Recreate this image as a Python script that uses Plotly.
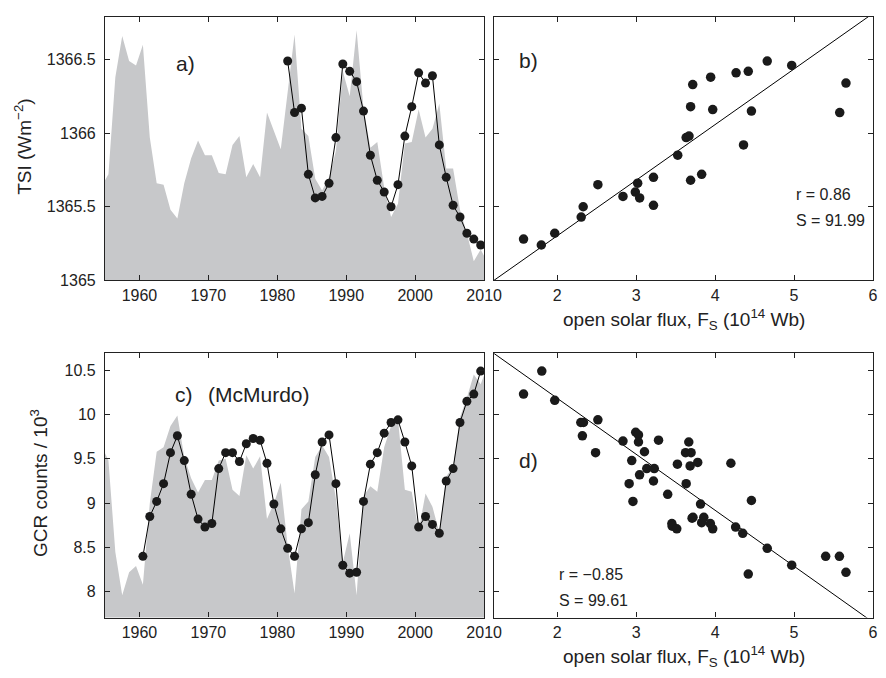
import plotly.graph_objects as go

# ---------------- data ----------------
bg_years = [y + 0.5 for y in range(1954, 2011)]          # annual means 1954.5 .. 2010.5
tsi_bg = [1365.64, 1365.72, 1366.38, 1366.66, 1366.49, 1366.46, 1366.60, 1365.97,
          1365.66, 1365.65, 1365.48, 1365.42, 1365.66, 1365.83, 1365.95, 1365.85,
          1365.85, 1365.73, 1365.72, 1365.92, 1365.98, 1365.70, 1365.79, 1365.70,
          1366.14, 1366.01, 1365.89, 1366.28, 1366.67, 1366.03, 1365.98, 1365.69,
          1365.61, 1365.70, 1365.88, 1366.42, 1366.25, 1366.70, 1366.17, 1365.90,
          1365.94, 1365.63, 1365.43, 1365.52, 1365.93, 1365.94, 1366.16, 1365.97,
          1366.03, 1366.20, 1365.76, 1365.76, 1365.48, 1365.32, 1365.13, 1365.21,
          1365.12]
gcr_bg = [9.65, 9.48, 8.45, 7.96, 8.22, 8.29, 8.08, 9.00, 9.58, 9.63, 9.87, 9.99,
          9.52, 9.28, 9.12, 9.26, 9.26, 9.48, 9.50, 9.15, 9.08, 9.54, 9.39, 9.53,
          8.82, 9.00, 9.23, 8.52, 7.98, 8.93, 9.02, 9.52, 9.65, 9.52, 9.05, 8.33,
          8.66, 7.96, 9.08, 9.19, 9.13, 9.63, 9.87, 9.95, 9.15, 9.13, 8.69, 9.11,
          8.96, 8.67, 9.30, 9.41, 9.97, 10.19, 10.45, 10.34, 10.55]

tsi_years = [y + 0.5 for y in range(1981, 2010)]          # 1981.5 .. 2009.5
tsi_obs = [1366.49, 1366.14, 1366.17, 1365.72, 1365.56, 1365.57, 1365.66, 1365.97,
           1366.47, 1366.42, 1366.35, 1366.15, 1365.85, 1365.68, 1365.60, 1365.50,
           1365.65, 1365.98, 1366.18, 1366.41, 1366.34, 1366.39, 1365.92, 1365.70,
           1365.51, 1365.43, 1365.32, 1365.28, 1365.24]

gcr_years = [y + 0.5 for y in range(1960, 2010)]          # 1960.5 .. 2009.5
gcr_obs = [8.40, 8.85, 9.02, 9.22, 9.57, 9.76, 9.48, 9.10, 8.82, 8.73, 8.77, 9.39,
           9.57, 9.57, 9.47, 9.67, 9.73, 9.71, 9.45, 8.99, 8.71, 8.49, 8.40,
           8.71, 8.78, 9.32, 9.69, 9.77, 9.22, 8.30, 8.21, 8.22, 9.02, 9.44, 9.57,
           9.79, 9.91, 9.94, 9.69, 9.42, 8.73, 8.85, 8.76, 8.66, 9.25, 9.39, 9.91,
           10.15, 10.23, 10.49]

fs_b = [1.575, 1.80, 1.97, 2.305, 2.33, 2.516, 2.834, 2.99, 3.02, 3.045, 3.22, 3.22,
        3.527, 3.634, 3.67, 3.69, 3.69, 3.717, 3.83, 3.944, 3.97, 4.266, 4.36, 4.42,
        4.46, 4.66, 4.97, 5.578, 5.657]
tsi_b = [1365.28, 1365.24, 1365.32, 1365.43, 1365.50, 1365.65, 1365.57, 1365.60,
         1365.66, 1365.56, 1365.70, 1365.51, 1365.85, 1365.97, 1365.98, 1366.18,
         1365.68, 1366.33, 1365.72, 1366.38, 1366.16, 1366.41, 1365.92, 1366.42,
         1366.15, 1366.49, 1366.46, 1366.14, 1366.34]

fs_d = [1.575, 1.806, 1.97, 2.30, 2.334, 2.32, 2.516, 2.487, 2.834, 2.995, 3.03, 3.03,
        2.945, 2.912, 2.96, 3.044, 3.106, 3.135, 3.23, 3.22, 3.284, 3.40, 3.453, 3.457,
        3.515, 3.523, 3.634, 3.626, 3.667, 3.696, 3.684, 3.709, 3.72, 3.78, 3.816,
        3.83, 3.857, 3.94, 3.97, 4.20, 4.26, 4.35, 4.46, 4.42, 4.66, 4.97, 5.40,
        5.574, 5.657]
gcr_d = [10.23, 10.49, 10.16, 9.91, 9.91, 9.76, 9.94, 9.57, 9.70, 9.80, 9.77, 9.69,
         9.48, 9.22, 9.02, 9.32, 9.58, 9.39, 9.39, 9.25, 9.71, 9.10, 8.77, 8.74,
         8.71, 9.44, 9.22, 9.57, 9.69, 9.57, 9.42, 8.83, 8.84, 9.46, 8.99, 8.78,
         8.84, 8.77, 8.71, 9.45, 8.73, 8.66, 9.03, 8.20, 8.49, 8.30, 8.40, 8.40,
         8.22]

fit_b = (1364.546, 0.378)     # intercept, slope of the line in panel b
fit_d = (11.448, -0.632)      # intercept, slope of the line in panel d
fs_line = [1.2, 6.0]

year_ticks = [1960, 1970, 1980, 1990, 2000, 2010]
fs_ticks = [2, 3, 4, 5, 6]
tsi_ticks = [1365, 1365.5, 1366, 1366.5]
tsi_ticktext = ["1365", "1365.5", "1366", "1366.5"]
gcr_ticks = [8, 8.5, 9, 9.5, 10, 10.5]
gcr_ticktext = ["8", "8.5", "9", "9.5", "10", "10.5"]

stats_b = ["r = 0.86", "S = 91.99"]
stats_d = ["r = \u22120.85", "S = 99.61"]

# ---------------- style ----------------
W, H = 886, 678
GRAY = "#c7c8ca"
DOT = "#1a1a1a"
INK = "#222222"
FONT = "Liberation Sans, Arial, Helvetica, sans-serif"


def px(x):
    return x / W


def py(y):
    return 1 - y / H


fig = go.Figure()

# panel a
fig.add_trace(go.Scatter(x=bg_years, y=tsi_bg, mode="lines", fill="tozeroy",
                         line=dict(width=0, color=GRAY), fillcolor=GRAY,
                         xaxis="x", yaxis="y", hoverinfo="skip"))
fig.add_trace(go.Scatter(x=tsi_years, y=tsi_obs, mode="lines+markers",
                         line=dict(color="black", width=1),
                         marker=dict(color=DOT, size=9),
                         xaxis="x", yaxis="y"))
# panel b
fig.add_trace(go.Scatter(x=fs_line, y=[fit_b[0] + fit_b[1] * v for v in fs_line],
                         mode="lines", line=dict(color="black", width=1),
                         xaxis="x2", yaxis="y2"))
fig.add_trace(go.Scatter(x=fs_b, y=tsi_b, mode="markers",
                         marker=dict(color=DOT, size=9.5),
                         xaxis="x2", yaxis="y2"))
# panel c
fig.add_trace(go.Scatter(x=bg_years, y=gcr_bg, mode="lines", fill="tozeroy",
                         line=dict(width=0, color=GRAY), fillcolor=GRAY,
                         xaxis="x3", yaxis="y3", hoverinfo="skip"))
fig.add_trace(go.Scatter(x=gcr_years, y=gcr_obs, mode="lines+markers",
                         line=dict(color="black", width=1),
                         marker=dict(color=DOT, size=9),
                         xaxis="x3", yaxis="y3"))
# panel d
fig.add_trace(go.Scatter(x=fs_line, y=[fit_d[0] + fit_d[1] * v for v in fs_line],
                         mode="lines", line=dict(color="black", width=1),
                         xaxis="x4", yaxis="y4"))
fig.add_trace(go.Scatter(x=fs_d, y=gcr_d, mode="markers",
                         marker=dict(color=DOT, size=9.5),
                         xaxis="x4", yaxis="y4"))

common = dict(showline=True, linecolor=INK, linewidth=1.2, mirror="ticks",
              ticks="inside", ticklen=5, tickcolor=INK, tickwidth=1,
              showgrid=False, zeroline=False,
              tickfont=dict(family=FONT, size=16, color=INK))

top = [py(276), py(9)]
bot = [py(617.7), py(350)]
left = [px(99), px(486)]
right = [px(496), px(883)]

fig.update_layout(
    width=W, height=H, margin=dict(l=0, r=0, t=0, b=0),
    paper_bgcolor="white", plot_bgcolor="white", showlegend=False,
    xaxis=dict(domain=left, anchor="y", range=[1955, 2010],
               tickvals=year_ticks, ticklabelstandoff=0, **common),
    yaxis=dict(domain=top, anchor="x", range=[1365, 1366.79],
               tickvals=tsi_ticks, ticktext=tsi_ticktext,
               ticklabelstandoff=5, **common),
    xaxis2=dict(domain=right, anchor="y2", range=[1.2, 6], tickvals=fs_ticks,
                ticklabelstandoff=0, **common),
    yaxis2=dict(domain=top, anchor="x2", range=[1365, 1366.79],
                tickvals=tsi_ticks, showticklabels=False, **common),
    xaxis3=dict(domain=left, anchor="y3", range=[1955, 2010],
                tickvals=year_ticks, ticklabelstandoff=0, **common),
    yaxis3=dict(domain=bot, anchor="x3", range=[7.71, 10.69],
                tickvals=gcr_ticks, ticktext=gcr_ticktext,
                ticklabelstandoff=5, **common),
    xaxis4=dict(domain=right, anchor="y4", range=[1.2, 6], tickvals=fs_ticks,
                ticklabelstandoff=0, **common),
    yaxis4=dict(domain=bot, anchor="x4", range=[7.71, 10.69],
                tickvals=gcr_ticks, showticklabels=False, **common),
)


def ann(text, x, y, size, xanchor="left", angle=0):
    fig.add_annotation(text=text, x=px(x), y=py(y), xref="paper", yref="paper",
                       xanchor=xanchor, yanchor="middle", showarrow=False,
                       textangle=angle,
                       font=dict(family=FONT, size=size, color=INK))


ann("a)", 169, 56, 21)
ann("b)", 520, 53, 21)
ann("c)", 168, 392, 21)
ann("(McMurdo)", 202, 392, 21)
ann("d)", 520, 459, 21)
ann(stats_b[0], 802, 189, 16)
ann(stats_b[1], 802, 215, 16)
ann(stats_d[0], 560, 574, 16)
ann(stats_d[1], 560, 600, 16)

ann("TSI (Wm<sup>\u22122</sup>)", 15, 141, 19, xanchor="center", angle=-90)
ann("GCR counts / 10<sup>3</sup>", 31, 481, 19, xanchor="center", angle=-90)
xt = "open solar flux, F<sub>S</sub> (10<sup>14</sup> Wb)"
ann(xt, 690, 316, 19, xanchor="center")
ann(xt, 690, 657, 19, xanchor="center")

fig.write_html("out.html")
